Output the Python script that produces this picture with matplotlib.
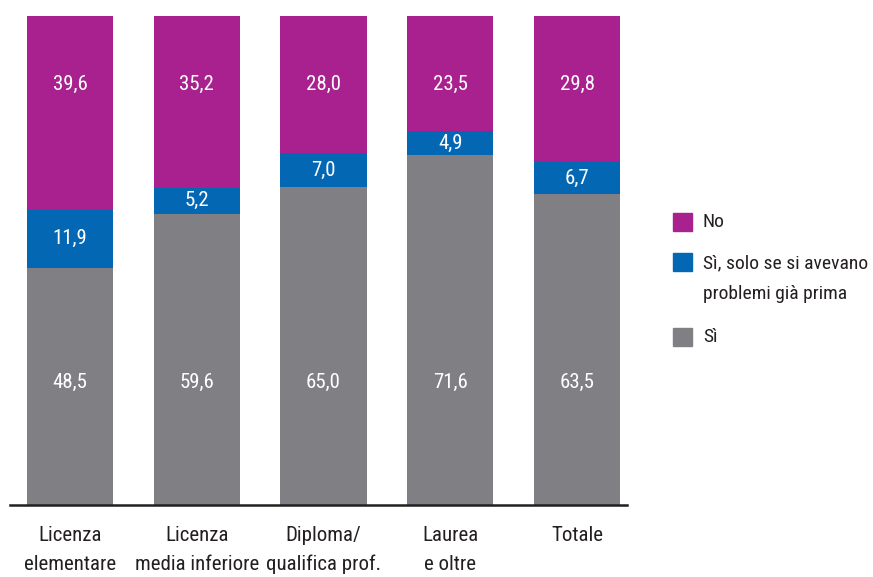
import matplotlib
matplotlib.use("Agg")
import matplotlib.pyplot as plt
from matplotlib.patches import Rectangle
from matplotlib import font_manager as fm

# choose a condensed font if one is installed
def pick_font():
    entries = fm.fontManager.ttflist
    prefs = ["Liberation Sans Narrow", "Roboto Condensed", "Open Sans Condensed", "Noto Sans Condensed"]
    for p in prefs:
        for e in entries:
            if e.name == p and e.weight in (400, "normal", "regular") and e.style == "normal":
                return fm.FontProperties(fname=e.fname)
    for e in entries:
        st = str(e.stretch)
        if (st in ("condensed", "semi-condensed", "extra-condensed") or
                (st.isdigit() and int(st) < 500)) and e.style == "normal" and \
                e.weight in (400, "normal", "regular") and "Mono" not in e.name and "Serif" not in e.name:
            return fm.FontProperties(fname=e.fname)
    for e in entries:
        if ("Condensed" in e.fname or "Narrow" in e.fname) and "Bold" not in e.fname \
                and "Oblique" not in e.fname and "Italic" not in e.fname and "Mono" not in e.fname:
            return fm.FontProperties(fname=e.fname)
    return fm.FontProperties(family="Roboto")

FP = pick_font()

categories = ["Licenza\nelementare", "Licenza\nmedia inferiore", "Diploma/\nqualifica prof.", "Laurea\ne oltre", "Totale"]
si = [48.5, 59.6, 65.0, 71.6, 63.5]
si_solo = [11.9, 5.2, 7.0, 4.9, 6.7]
no = [39.6, 35.2, 28.0, 23.5, 29.8]
series_names = ["No", "Sì, solo se si avevano\nproblemi già prima", "Sì"]
colors = {"si": "#808084", "solo": "#0467B3", "no": "#A8218E"}

fig = plt.figure(figsize=(8.73, 5.77), dpi=100)
ax = fig.add_axes([10/873, 72/577, 617/873, 489/577])

x = list(range(len(categories)))
w = 0.68
ax.bar(x, si, width=w, color=colors["si"])
ax.bar(x, si_solo, width=w, bottom=si, color=colors["solo"])
bottom_no = [a + b for a, b in zip(si, si_solo)]
ax.bar(x, no, width=w, bottom=bottom_no, color=colors["no"])

fmt = lambda v: f"{v:.1f}".replace(".", ",")
fs = 15
for i in x:
    ax.text(i, 25, fmt(si[i]), ha="center", va="center", color="white", fontsize=fs, fontproperties=FP)
    ax.text(i, si[i] + si_solo[i] / 2, fmt(si_solo[i]), ha="center", va="center", color="white",
            fontsize=fs, fontproperties=FP)
    ax.text(i, 86, fmt(no[i]), ha="center", va="center", color="white", fontsize=fs, fontproperties=FP)

ax.set_xlim(-0.473, 4.394)
ax.set_ylim(0, 100)
for s in ["top", "right", "left"]:
    ax.spines[s].set_visible(False)
ax.spines["bottom"].set_linewidth(1.8)
ax.spines["bottom"].set_color("#231F20")
ax.set_yticks([])
ax.set_xticks(x)
ax.set_xticklabels(categories, color="#231F20", linespacing=1.65)
for t in ax.get_xticklabels():
    t.set_fontproperties(FP)
    t.set_fontsize(fs)
ax.tick_params(axis="x", length=0, pad=15)

# legend
lfs = 14
leg_colors = [colors["no"], colors["solo"], colors["si"]]
leg_y = [222, 262, 337]
for name, c, yy in zip(series_names, leg_colors, leg_y):
    fig.patches.append(Rectangle((673/873, 1 - (yy + 9)/577), 19/873, 18/577,
                                 transform=fig.transFigure, color=c))
    if "\n" in name:
        fig.text(703/873, 1 - (yy - 8)/577, name, ha="left", va="top",
                 fontproperties=FP, fontsize=lfs, color="#231F20", linespacing=1.95)
    else:
        fig.text(703/873, 1 - yy/577, name, ha="left", va="center",
                 fontproperties=FP, fontsize=lfs, color="#231F20")

fig.savefig("out.png", dpi=100)
